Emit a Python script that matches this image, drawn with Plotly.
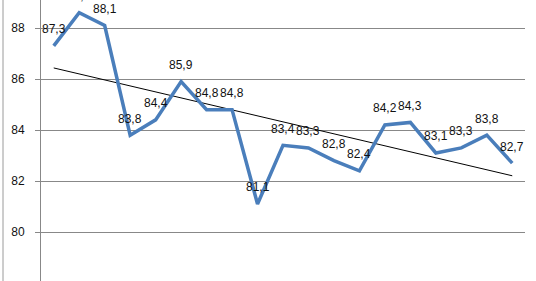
import numpy as np
import plotly.graph_objects as go

categories = list(range(1, 20))
values = [87.3, 88.6, 88.1, 83.8, 84.4, 85.9, 84.8, 84.8, 81.1, 83.4, 83.3, 82.8, 82.4, 84.2, 84.3, 83.1, 83.3, 83.8, 82.7]
tick_vals = [78, 80, 82, 84, 86, 88]

x = np.array(categories, dtype=float)
y = np.array(values)
slope, intercept = np.polyfit(x, y, 1)
trend = slope * x + intercept

fig = go.Figure()
fig.add_trace(go.Scatter(x=categories, y=trend, mode="lines",
                         line=dict(color="black", width=1), hoverinfo="skip"))
fig.add_trace(go.Scatter(x=categories, y=values, mode="lines",
                         line=dict(color="#4A7EBB", width=3.5)))

for c, v in zip(categories, values):
    fig.add_annotation(x=c, y=v, text=f"{v:.1f}".replace(".", ","), showarrow=False,
                       yshift=16.5, font=dict(family="Liberation Sans", size=12, color="#111"))

y0, y1 = 78.08, 89.1
fig.add_annotation(xref="paper", yref="paper", x=0, y=(78 - y0) / (y1 - y0),
                   xanchor="right", yanchor="middle", xshift=-14, yshift=-3,
                   text="78", showarrow=False,
                   font=dict(family="Liberation Sans", size=12, color="#111"))

fig.add_shape(type="line", xref="paper", yref="paper", x0=-38/484, x1=-38/484, y0=0, y1=1,
              line=dict(color="#9a9a9a", width=1))

fig.update_layout(
    width=536, height=281, margin=dict(l=41, r=11, t=0, b=0),
    paper_bgcolor="white", plot_bgcolor="white", showlegend=False,
    separators=", ",
)
fig.update_xaxes(type="linear", range=[0.5, 19.5], visible=False)
fig.update_yaxes(range=[y0, y1], tickvals=tick_vals, showgrid=True, gridcolor="#888888",
                 gridwidth=1, showline=True, linecolor="#888888", linewidth=1,
                 ticks="outside", ticklen=5, tickcolor="#888888", zeroline=False,
                 ticklabelstandoff=8,
                 tickfont=dict(family="Liberation Sans", size=12, color="#111"))

fig.write_html("out.html")
